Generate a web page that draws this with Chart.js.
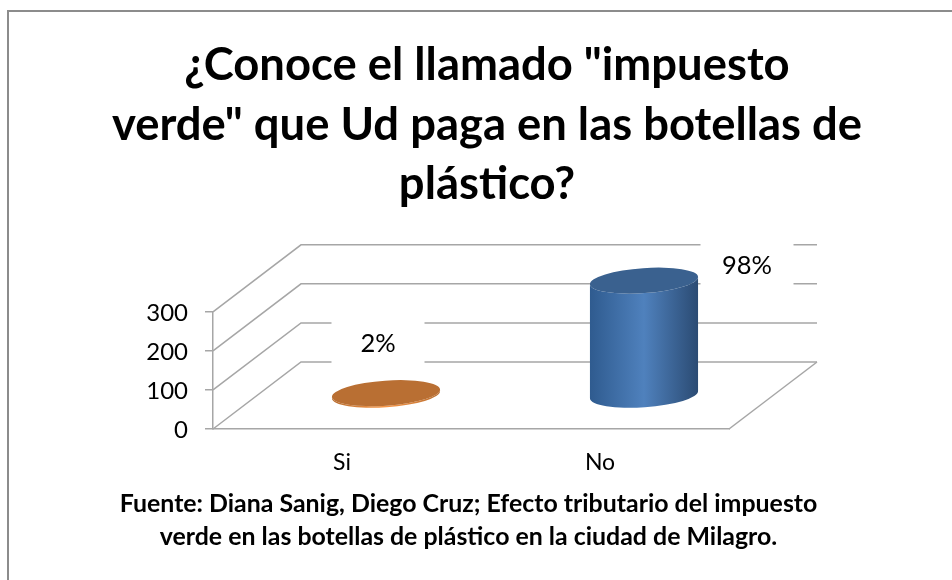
<!DOCTYPE html>
<html>
<head>
<meta charset="utf-8">
<style>
html, body { margin: 0; padding: 0; background: #fff; overflow: hidden; }
canvas { display: block; }
</style>
<script src="https://cdn.jsdelivr.net/npm/chart.js@4/dist/chart.umd.min.js"></script>
</head>
<body>
<canvas id="canvas-impuesto" width="952" height="580"></canvas>
<script>
var categories = ['Si', 'No'];
var responses = [6, 294];
var percentLabels = ['2%', '98%'];
var yTicks = [0, 100, 200, 300];
var titleLines = ['¿Conoce el llamado "impuesto', 'verde" que Ud paga en las botellas de', 'plástico?'];
var sourceLines = ['Fuente: Diana Sanig, Diego Cruz; Efecto tributario del impuesto', 'verde en las botellas de plástico en la ciudad de Milagro.'];

var FONT = 'Lato, sans-serif';
var GRID = '#a6a6a6';
var DEPTH_X = 88;
var DEPTH_Y = 67;
var TILT = -4 * Math.PI / 180;

// side shades of the cylinders, left edge -> middle -> right edge
var shades = [
    { side: ['#b96f32', '#f79646', '#b96f32'], top: '#b96f33' },
    { side: ['#2f5b8f', '#4f81bd', '#2b4b73'], top: '#3a618f' }
];
var labelOffsets = [[-8, -49], [103, -15]];

var cylinder3d = {
    id: 'cylinder3d',
    beforeDatasetsDraw: function (chart) {
        var ctx = chart.ctx, y = chart.scales.y, a = chart.chartArea;
        ctx.save();
        ctx.strokeStyle = GRID;
        ctx.lineWidth = 1.5;
        yTicks.forEach(function (v) {
            var py = y.getPixelForValue(v);
            ctx.beginPath();
            ctx.moveTo(a.left, py);
            ctx.lineTo(a.left + DEPTH_X, py - DEPTH_Y);
            ctx.lineTo(a.right + DEPTH_X, py - DEPTH_Y);
            ctx.stroke();
        });
        // right edge of the floor
        ctx.beginPath();
        ctx.moveTo(a.right, a.bottom);
        ctx.lineTo(a.right + DEPTH_X, a.bottom - DEPTH_Y);
        ctx.stroke();

        // white boxes behind the value labels break the grid lines
        ctx.fillStyle = '#fff';
        chart.getDatasetMeta(0).data.forEach(function (bar, i) {
            var p = labelPos(bar, i);
            ctx.fillRect(p.x - 46.5, p.y - 25, 93, 50);
        });
        ctx.restore();
    },
    beforeDatasetDraw: function (chart, args) {
        var ctx = chart.ctx;
        args.meta.data.forEach(function (bar, i) {
            var cx = bar.x + DEPTH_X / 2;
            var top = bar.y - DEPTH_Y / 2;
            var bottom = bar.base - DEPTH_Y / 2;
            var rx = bar.width / 2;
            var ry = 12.5;
            var s = shades[i];
            var dx = rx * Math.cos(TILT);

            var grad = ctx.createLinearGradient(cx - dx, 0, cx + dx, 0);
            grad.addColorStop(0, s.side[0]);
            grad.addColorStop(0.5, s.side[1]);
            grad.addColorStop(1, s.side[2]);

            ctx.save();
            ctx.beginPath();
            ctx.ellipse(cx, bottom, rx, ry, TILT, 0, Math.PI);
            ctx.ellipse(cx, top, rx, ry, TILT, Math.PI, 0, true);
            ctx.closePath();
            ctx.fillStyle = grad;
            ctx.fill();

            ctx.beginPath();
            ctx.ellipse(cx, top, rx, ry, TILT, 0, Math.PI * 2);
            ctx.fillStyle = s.top;
            ctx.fill();
            ctx.restore();
        });
        return false;
    },
    afterDatasetsDraw: function (chart) {
        var ctx = chart.ctx;
        ctx.save();
        ctx.fillStyle = '#000';
        ctx.font = '25.5px ' + FONT;
        ctx.textAlign = 'center';
        ctx.textBaseline = 'middle';
        chart.getDatasetMeta(0).data.forEach(function (bar, i) {
            var p = labelPos(bar, i);
            ctx.fillText(percentLabels[i], p.x, p.y);
        });
        ctx.restore();
    }
};

function labelPos(bar, i) {
    return {
        x: bar.x + DEPTH_X / 2 + labelOffsets[i][0],
        y: bar.y - DEPTH_Y / 2 + labelOffsets[i][1]
    };
}

var chartFrame = {
    id: 'chartFrame',
    beforeDraw: function (chart) {
        var ctx = chart.ctx;
        ctx.save();
        ctx.fillStyle = '#fff';
        ctx.fillRect(0, 0, chart.width, chart.height);
        ctx.strokeStyle = '#8c8c8c';
        ctx.lineWidth = 2;
        ctx.strokeRect(8, 11, 960, 600);
        ctx.restore();
    },
    afterLayout: function (chart) {
        // the title sits a little right of the canvas centre
        chart.titleBlock.left = 11;
        chart.titleBlock.right = chart.width + 11;
    },
    afterDraw: function (chart) {
        // source note under the axis, the subtitle plugin can't be moved off centre
        var ctx = chart.ctx;
        ctx.save();
        ctx.fillStyle = '#000';
        ctx.font = 'bold 24.9px ' + FONT;
        ctx.textAlign = 'center';
        ctx.textBaseline = 'middle';
        sourceLines.forEach(function (line, i) {
            ctx.fillText(line, 468.5, 504 + i * 33);
        });
        ctx.restore();
    }
};

var config = {
    type: 'bar',
    data: {
        labels: categories,
        datasets: [{
            data: responses,
            backgroundColor: ['#f79646', '#4f81bd'],
            barPercentage: 0.84,
            categoryPercentage: 0.5
        }]
    },
    options: {
        responsive: false,
        animation: false,
        layout: { padding: { left: 0, right: 223, top: 0, bottom: 0 } },
        plugins: {
            legend: { display: false },
            tooltip: { enabled: false },
            title: {
                display: true,
                text: titleLines,
                color: '#000',
                font: { family: FONT, size: 45.4, weight: 'bold', lineHeight: 1.32 },
                padding: { top: 35, bottom: 97 }
            }
        },
        scales: {
            x: {
                grid: { display: false },
                border: { display: true, color: GRID, width: 1.5 },
                ticks: { color: '#000', font: { family: FONT, size: 23 }, padding: 12, maxRotation: 0 },
                afterFit: function (scale) { scale.height = 151; }
            },
            y: {
                min: 0,
                max: 300,
                afterBuildTicks: function (scale) {
                    scale.ticks = yTicks.map(function (v) { return { value: v }; });
                },
                grid: { drawOnChartArea: false, drawTicks: true, tickLength: 8, color: GRID, lineWidth: 1.5 },
                border: { display: true, color: GRID, width: 1.5 },
                ticks: { color: '#000', font: { family: FONT, size: 24 }, padding: 17, labelOffset: 1.5 },
                afterFit: function (scale) { scale.width = 213; }
            }
        }
    },
    plugins: [chartFrame, cylinder3d]
};

var ctx = document.getElementById('canvas-impuesto').getContext('2d');
window.myChart = new Chart(ctx, config);
</script>
</body>
</html>
